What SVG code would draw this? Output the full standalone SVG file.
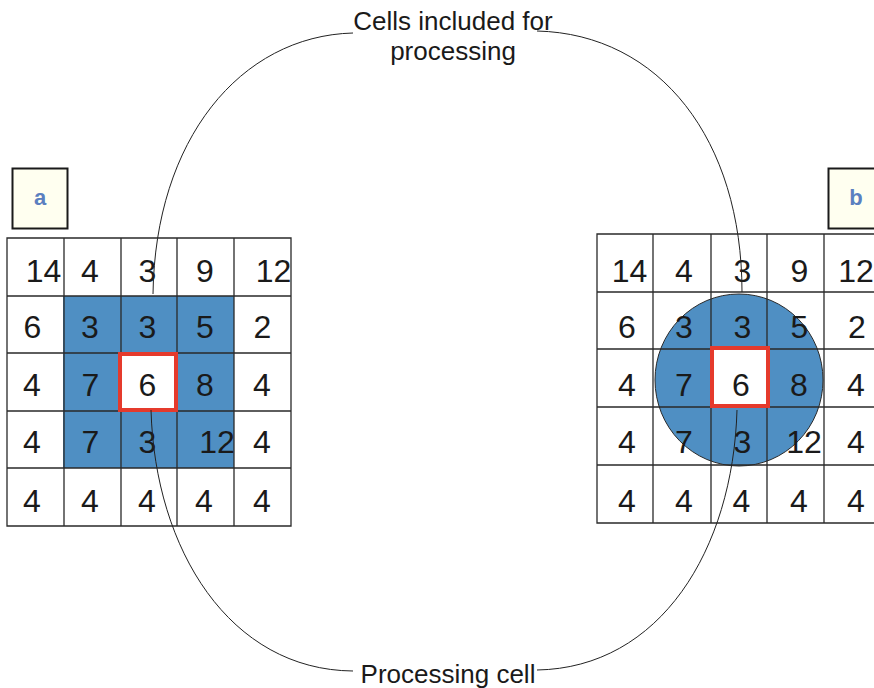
<svg xmlns="http://www.w3.org/2000/svg" width="874" height="688" viewBox="0 0 874 688">
<style>
.bg{fill:#ffffff}
.grid{fill:none;stroke:#2a2a2a;stroke-width:1.3}
.blue{fill:#4f8fc3}
.red{fill:#ffffff;stroke:#e53a2c;stroke-width:4}
.num{font-family:"Liberation Sans",Arial,sans-serif;font-size:32px;fill:#1a1a1a;text-anchor:middle}
.lbl{font-family:"Liberation Sans",Arial,sans-serif;font-size:26px;fill:#1a1a1a;text-anchor:middle}
.tag{fill:#fffff0;stroke:#1a1a1a;stroke-width:2}
.tagt{font-family:"Liberation Sans",Arial,sans-serif;font-size:22px;font-weight:bold;fill:#5b80c0;text-anchor:middle}
.conn{fill:none;stroke:#222;stroke-width:1}
</style>
<rect class="bg" x="0" y="0" width="874" height="688"/>

<g id="tag-a">
<rect class="tag" x="12.5" y="168.5" width="55" height="60"/>
<text class="tagt" x="40" y="205">a</text>
</g>
<g id="tag-b">
<rect class="tag" x="828.5" y="168.5" width="55" height="60"/>
<text class="tagt" x="856" y="205">b</text>
</g>

<g id="grid-a">
<rect x="7" y="238" width="284" height="288" fill="#ffffff"/>
<rect class="blue" x="63" y="296" width="171" height="172"/>
<path class="grid" d="M7 238H291V526H7Z M64 238V526 M121 238V526 M177 238V526 M234 238V526 M7 296H291 M7 353H291 M7 411H291 M7 468H291"/>
<rect class="red" x="120" y="354" width="56" height="56"/>
<text class="num" x="43.5" y="282">14</text>
<text class="num" x="90" y="282">4</text>
<text class="num" x="147.5" y="282">3</text>
<text class="num" x="205" y="282">9</text>
<text class="num" x="273.5" y="282">12</text>
<text class="num" x="32.5" y="338">6</text>
<text class="num" x="90" y="338">3</text>
<text class="num" x="147.5" y="338">3</text>
<text class="num" x="205" y="338">5</text>
<text class="num" x="262.5" y="338">2</text>
<text class="num" x="32" y="396">4</text>
<text class="num" x="90.5" y="396">7</text>
<text class="num" x="147.5" y="396">6</text>
<text class="num" x="205" y="396">8</text>
<text class="num" x="262" y="396">4</text>
<text class="num" x="32" y="453">4</text>
<text class="num" x="90.5" y="453">7</text>
<text class="num" x="147.5" y="453">3</text>
<text class="num" x="217" y="453">12</text>
<text class="num" x="262" y="453">4</text>
<text class="num" x="32" y="512">4</text>
<text class="num" x="90" y="512">4</text>
<text class="num" x="147" y="512">4</text>
<text class="num" x="204" y="512">4</text>
<text class="num" x="262" y="512">4</text>
</g>

<g id="grid-b">
<rect x="597" y="234" width="284" height="289" fill="#ffffff"/>
<ellipse class="blue" cx="739" cy="380" rx="84" ry="86" stroke="#2a2a2a" stroke-width="1"/>
<path class="grid" d="M597 234H881V523H597Z M653 234V523 M711 234V523 M767 234V523 M824 234V523 M597 292H881 M597 349H881 M597 407H881 M597 465H881"/>
<rect class="red" x="712" y="348" width="56" height="58"/>
<text class="num" x="629.5" y="282">14</text>
<text class="num" x="684" y="282">4</text>
<text class="num" x="742.5" y="282">3</text>
<text class="num" x="799.5" y="282">9</text>
<text class="num" x="856" y="282">12</text>
<text class="num" x="627" y="338">6</text>
<text class="num" x="684" y="338">3</text>
<text class="num" x="742.5" y="338">3</text>
<text class="num" x="799.5" y="338">5</text>
<text class="num" x="857" y="338">2</text>
<text class="num" x="627" y="396">4</text>
<text class="num" x="684" y="396">7</text>
<text class="num" x="741" y="396">6</text>
<text class="num" x="799" y="396">8</text>
<text class="num" x="856" y="396">4</text>
<text class="num" x="627" y="453">4</text>
<text class="num" x="684" y="453">7</text>
<text class="num" x="742.5" y="453">3</text>
<text class="num" x="804" y="453">12</text>
<text class="num" x="856" y="453">4</text>
<text class="num" x="627" y="512">4</text>
<text class="num" x="684" y="512">4</text>
<text class="num" x="741.5" y="512">4</text>
<text class="num" x="799" y="512">4</text>
<text class="num" x="856" y="512">4</text>
</g>

<g id="connectors">
<path class="conn" d="M353 33C240 36 155 140 153 294"/>
<path class="conn" d="M537 31C660 34 742 140 742 292"/>
<path class="conn" d="M151 410C155 550 230 670 353 671"/>
<path class="conn" d="M737 410C733 550 660 668 537 670"/>
</g>

<g id="label-top">
<text class="lbl" x="453" y="30">Cells included for</text>
<text class="lbl" x="453" y="60">processing</text>
</g>
<g id="label-bottom">
<text class="lbl" x="448" y="683">Processing cell</text>
</g>
</svg>
